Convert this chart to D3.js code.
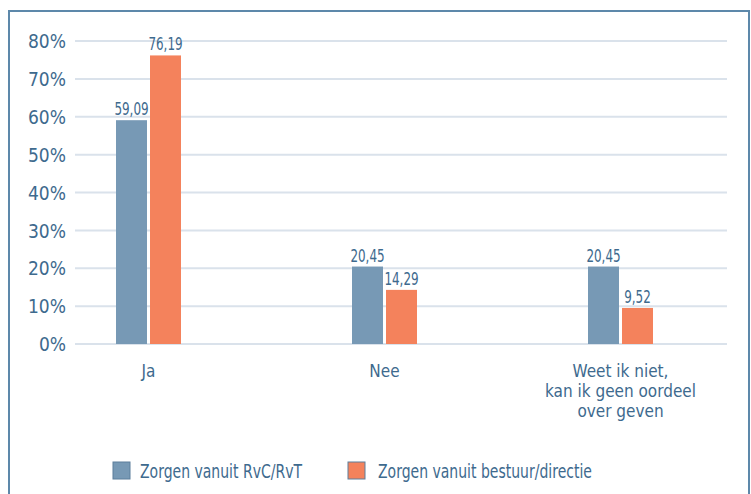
<!DOCTYPE html>
<html>
<head>
<meta charset="utf-8">
<script src="https://cdn.jsdelivr.net/npm/d3@7"></script>
<style>
  body { margin: 0; background: #fff; }
  svg text { font-family: "Liberation Sans Narrow", "DejaVu Sans Condensed", "Liberation Sans", sans-serif; fill: #3e6a8e; }
</style>
</head>
<body>
<div id="chart"></div>
<script>
// categorieën en reeksen
const categories = ['Ja', 'Nee', 'Weet ik niet,\nkan ik geen oordeel\nover geven'];
const seriesNames = ['Zorgen vanuit RvC/RvT', 'Zorgen vanuit bestuur/directie'];
const rvc = [59.09, 20.45, 20.45];
const bestuur = [76.19, 14.29, 9.52];
const yTicks = [0, 10, 20, 30, 40, 50, 60, 70, 80];
const colors = ['#7799b5', '#f4825c'];

const width = 751, height = 494;
// smalle letter (de bron gebruikt een condensed font)
const narrow = 0.82;

const svg = d3.select('#chart').append('svg')
  .attr('width', width)
  .attr('height', height);

// kader
svg.append('path')
  .attr('d', `M9,494 V11 H749 V494`)
  .attr('fill', 'none')
  .attr('stroke', '#5d88aa')
  .attr('stroke-width', 2);

// schalen
const y = d3.scaleLinear()
  .domain([0, 80])
  .range([344, 41]);
const x = d3.scalePoint()
  .domain(categories)
  .range([148.5, 620.5]);
const barW = 31, gap = 3;

// rasterlijnen
svg.append('g')
  .selectAll('line')
  .data(yTicks)
  .join('line')
  .attr('x1', 75)
  .attr('x2', 727)
  .attr('y1', d => y(d))
  .attr('y2', d => y(d))
  .attr('stroke', '#dae2eb')
  .attr('stroke-width', 2);

// y-as labels
const yAxis = g => g
  .attr('transform', 'translate(66,0)')
  .call(d3.axisLeft(y).tickValues(yTicks).tickSize(0).tickFormat(d => d + '%'))
  .call(g => g.select('.domain').remove())
  .call(g => g.selectAll('text')
    .attr('x', 0)
    .attr('dy', '0.35em')
    .style('font-size', '19px'));
svg.append('g').call(yAxis);

// staven
const series = [rvc, bestuur];
series.forEach((vals, s) => {
  const off = s === 0 ? -gap / 2 - barW : gap / 2;
  svg.append('g')
    .selectAll('rect')
    .data(vals)
    .join('rect')
    .attr('x', (d, i) => x(categories[i]) + off)
    .attr('y', d => y(d))
    .attr('width', barW)
    .attr('height', d => y(0) - y(d))
    .attr('fill', colors[s]);
  svg.append('g')
    .selectAll('text')
    .data(vals)
    .join('text')
    .attr('transform', (d, i) => `translate(${x(categories[i]) + off + barW / 2},${y(d) - 5}) scale(0.76,1)`)
    .attr('text-anchor', 'middle')
    .style('font-size', '17.5px')
    .text(d => d.toFixed(2).replace('.', ','));
});

// categorie labels
const catG = svg.append('g');
categories.forEach(c => {
  const t = catG.append('text')
    .attr('x', x(c))
    .attr('y', 377)
    .attr('text-anchor', 'middle')
    .style('font-size', '17px');
  c.split('\n').forEach((line, i) => {
    t.append('tspan')
      .attr('x', x(c))
      .attr('dy', i === 0 ? 0 : 20)
      .text(line);
  });
});

// legenda
const legendX = [113, 348];
seriesNames.forEach((name, i) => {
  const g = svg.append('g').attr('transform', `translate(${legendX[i]},462)`);
  g.append('rect')
    .attr('width', 17)
    .attr('height', 17)
    .attr('fill', colors[i])
    .attr('stroke', '#5d7f9c')
    .attr('stroke-width', 1);
  g.append('text')
    .attr('transform', `translate(${i === 0 ? 27 : 30},9) scale(${narrow},1)`)
    .attr('dy', '0.35em')
    .style('font-size', '19px')
    .text(name);
});
</script>
</body>
</html>
